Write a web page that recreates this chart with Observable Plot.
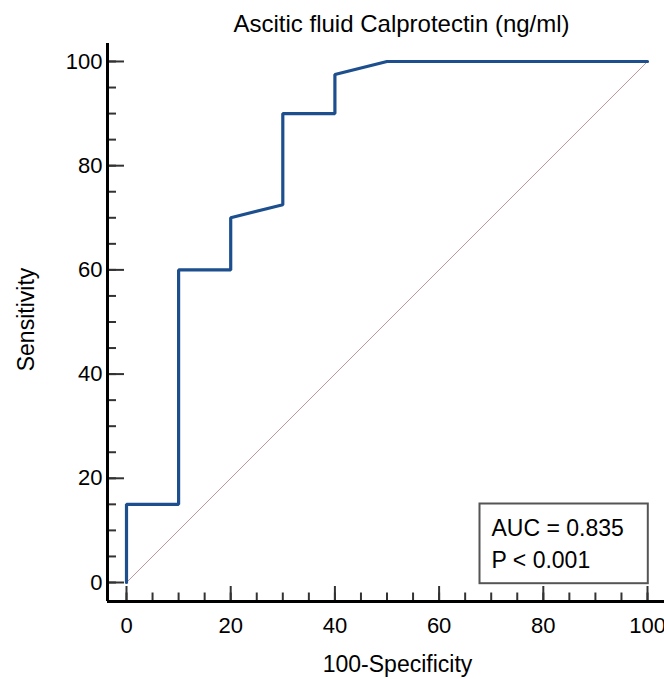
<!DOCTYPE html>
<html>
<head>
<meta charset="utf-8">
<script src="https://cdn.jsdelivr.net/npm/d3@7"></script>
<script src="https://cdn.jsdelivr.net/npm/@observablehq/plot@0.6"></script>
<style>
  html, body { margin: 0; padding: 0; background: #fff; }
  #chart { width: 664px; height: 679px; overflow: hidden; }
</style>
</head>
<body>
<div id="chart"></div>
<script>
// ROC curve points (100-Specificity, Sensitivity)
const fpr = [0, 0, 10, 10, 20, 20, 30, 30, 40, 40, 50, 100];
const tpr = [0, 15, 15, 60, 60, 70, 72.5, 90, 90, 97.5, 100, 100];
// reference diagonal
const refLine = [0, 100];
// ticks
const xMajor = [0, 20, 40, 60, 80, 100];
const yMajor = [0, 20, 40, 60, 80, 100];
const minorTicks = d3.range(0, 101, 5);
// texts
const titleText = "Ascitic fluid Calprotectin (ng/ml)";
const xLabel = "100-Specificity";
const yLabel = "Sensitivity";
const statsLines = ["AUC = 0.835", "P < 0.001"];

const W = 664, H = 679;
const mL = 107, mT = 43, mB = 78, mR = 0;
const frameW = W - mL - mR, frameH = H - mT - mB;
const xDomain = [-3.647, 103.26];
const yDomain = [-3.647, 103.45];
const font = "'Liberation Sans', Arial, Helvetica, sans-serif";

const roc = fpr.map((x, i) => ({x, y: tpr[i]}));
const diag = refLine.map(v => ({x: v, y: v}));

const chart = Plot.plot({
  width: W,
  height: H,
  marginLeft: mL,
  marginRight: mR,
  marginTop: mT,
  marginBottom: mB,
  style: {fontFamily: font, background: "#fff", color: "#000", overflow: "hidden"},
  x: {domain: xDomain},
  y: {domain: yDomain},
  marks: [
    // diagonal reference
    Plot.line(diag, {x: "x", y: "y", stroke: "#c4949c", strokeWidth: 1}),
    // ROC curve
    Plot.line(roc, {x: "x", y: "y", stroke: "#1d4f8e", strokeWidth: 3.2, strokeLinejoin: "miter"}),
    // minor ticks (inward)
    Plot.tickY(minorTicks, {y: d => d, insetRight: frameW - 9, stroke: "#333", strokeWidth: 2}),
    Plot.tickX(minorTicks, {x: d => d, insetTop: frameH - 8.5, stroke: "#333", strokeWidth: 2}),
    // major ticks (inward)
    Plot.tickY(yMajor, {y: d => d, insetRight: frameW - 17, stroke: "#333", strokeWidth: 2}),
    Plot.tickX(xMajor, {x: d => d, insetTop: frameH - 15, stroke: "#333", strokeWidth: 2}),
    // axis lines
    Plot.ruleX([xDomain[0]], {stroke: "#000", strokeWidth: 3}),
    Plot.ruleY([yDomain[0]], {stroke: "#000", strokeWidth: 3}),
    // tick labels
    Plot.axisY({ticks: yMajor, tickSize: 0, tickPadding: 5, fontSize: 22, label: null, tickFormat: d => String(d)}),
    Plot.axisX({ticks: xMajor, tickSize: 0, tickPadding: 16, fontSize: 22, label: null, tickFormat: d => String(d)}),
    // title
    Plot.text([titleText], {frameAnchor: "top-left", textAnchor: "start", lineAnchor: "middle",
      dx: 126, dy: -19.5, fontSize: 24, fill: "#000"}),
    // axis labels
    Plot.text([xLabel], {frameAnchor: "bottom", textAnchor: "middle", lineAnchor: "middle",
      dx: 11.5, dy: 63.5, fontSize: 23, fill: "#000"}),
    Plot.text([yLabel], {frameAnchor: "left", textAnchor: "middle", lineAnchor: "middle", rotate: -90,
      dx: -81, dy: -3, fontSize: 23, fill: "#000"}),
    // stats box
    Plot.frame({insetLeft: 372, insetRight: 16.7, insetTop: 460, insetBottom: 18.3, stroke: "#555", strokeWidth: 2}),
    Plot.text([statsLines[0]], {frameAnchor: "bottom-left", textAnchor: "start", lineAnchor: "middle",
      dx: 384, dy: -73, fontSize: 23, fill: "#000"}),
    Plot.text([statsLines[1]], {frameAnchor: "bottom-left", textAnchor: "start", lineAnchor: "middle",
      dx: 384, dy: -41, fontSize: 23, fill: "#000"})
  ]
});
document.getElementById("chart").appendChild(chart);
</script>
</body>
</html>
